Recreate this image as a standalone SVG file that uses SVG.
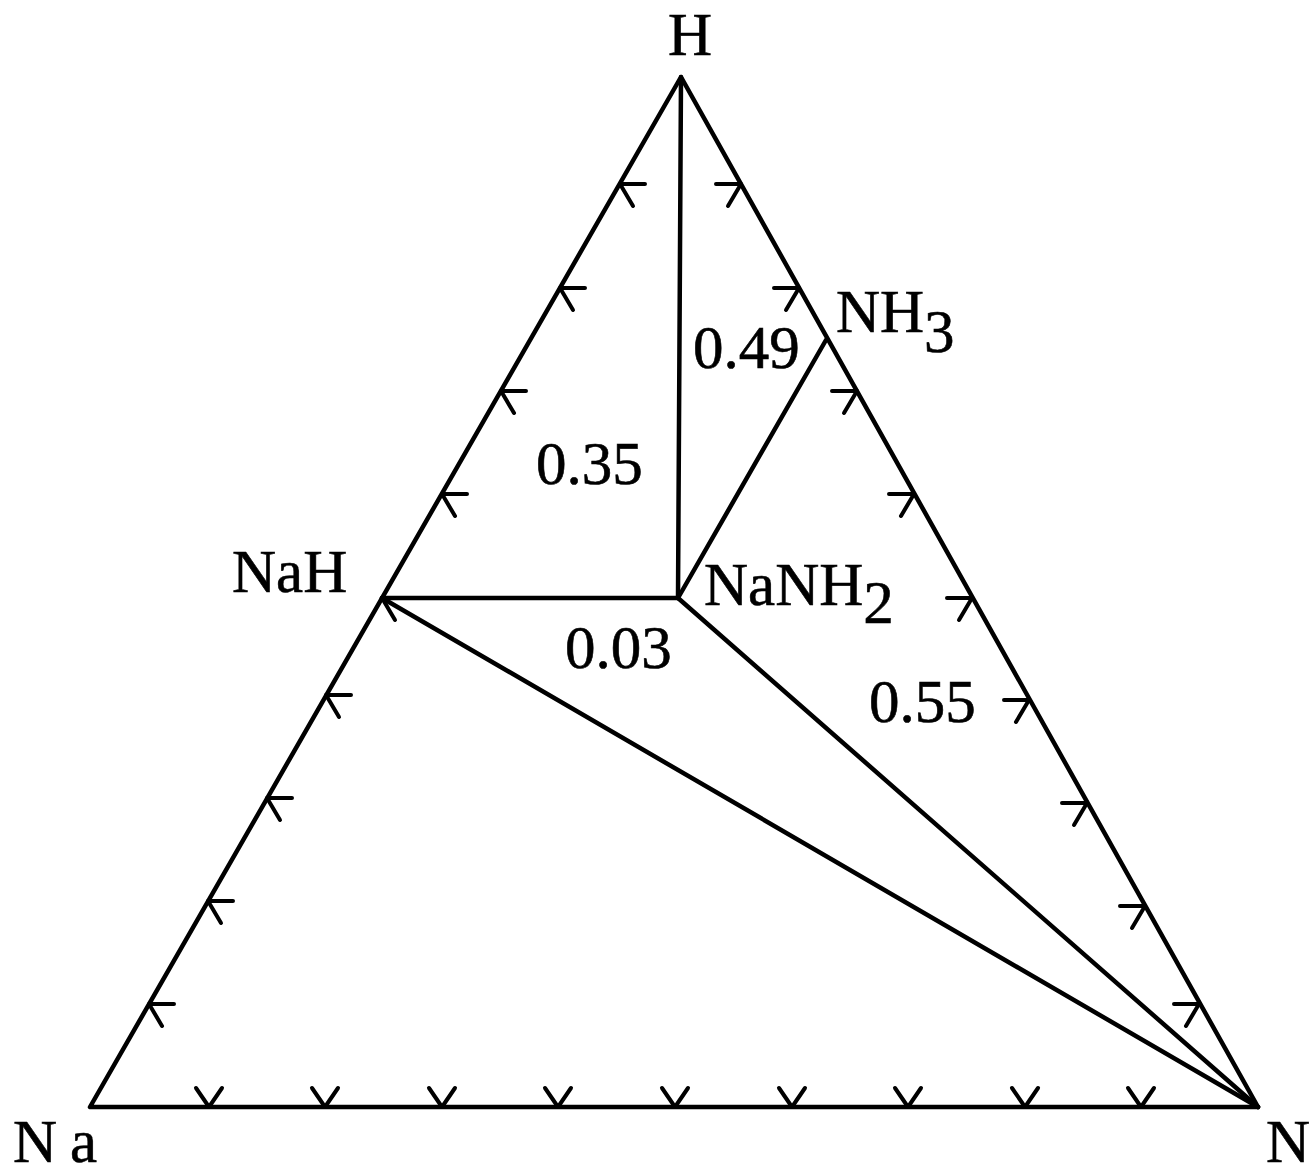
<svg xmlns="http://www.w3.org/2000/svg" width="1312" height="1176" viewBox="0 0 1312 1176">
<style>
.ln{stroke:#000;stroke-width:4.5;fill:none;stroke-linecap:round;stroke-linejoin:round}
.tk{stroke:#000;stroke-width:4;fill:none;stroke-linecap:round;stroke-linejoin:round}
.t{font-family:"Liberation Serif","Times New Roman",serif;font-size:61px;fill:#000;stroke:#000;stroke-width:0.6}
</style>
<rect x="0" y="0" width="1312" height="1176" fill="#fff"/>
<g id="connectors">
  <path class="ln" d="M681,77 L90,1107 L1258,1107 Z"/>
  <line class="ln" x1="681" y1="77" x2="678" y2="598"/>
  <line class="ln" x1="826" y1="340" x2="678" y2="598"/>
  <line class="ln" x1="382" y1="598" x2="678" y2="598"/>
  <line class="ln" x1="382" y1="598" x2="1258" y2="1107"/>
  <line class="ln" x1="678" y1="598" x2="1258" y2="1107"/>
  <g id="ticks-left" class="tk">
    <path d="M174,1004 L149,1004 L162,1026"/>
    <path d="M233,901 L208,901 L221,923"/>
    <path d="M292,798 L267,798 L280,820"/>
    <path d="M351,695 L326,695 L339,717"/>
    <path d="M407,598 L382,598 L395,620"/>
    <path d="M467,494 L442,494 L455,516"/>
    <path d="M526,391 L501,391 L514,413"/>
    <path d="M585,288 L560,288 L573,310"/>
    <path d="M645,184 L620,184 L633,206"/>
  </g>
  <g id="ticks-right" class="tk">
    <path d="M716,184 L741,184 L728,206"/>
    <path d="M774,288 L799,288 L786,310"/>
    <path d="M832,391 L857,391 L844,413"/>
    <path d="M889,494 L914,494 L901,516"/>
    <path d="M947,598 L972,598 L959,620"/>
    <path d="M1004,700 L1029,700 L1016,722"/>
    <path d="M1062,803 L1087,803 L1074,825"/>
    <path d="M1120,906 L1145,906 L1132,928"/>
    <path d="M1174,1004 L1199,1004 L1186,1026"/>
  </g>
  <g id="ticks-bottom" class="tk">
    <path d="M196,1088 L209,1107 L222,1088"/>
    <path d="M312,1088 L325,1107 L338,1088"/>
    <path d="M429,1088 L442,1107 L455,1088"/>
    <path d="M545,1088 L558,1107 L571,1088"/>
    <path d="M662,1088 L675,1107 L688,1088"/>
    <path d="M779,1088 L792,1107 L805,1088"/>
    <path d="M895,1088 L908,1107 L921,1088"/>
    <path d="M1012,1088 L1025,1107 L1038,1088"/>
    <path d="M1128,1088 L1141,1107 L1154,1088"/>
  </g>
</g>
<g id="node-H"><text class="t" x="690" y="55" text-anchor="middle">H</text></g>
<g id="node-Na"><text class="t" x="13" y="1162">N</text><text class="t" x="70" y="1162">a</text></g>
<g id="node-N"><text class="t" x="1266" y="1162">N</text></g>
<g id="node-NaH"><text class="t" x="232" y="592">NaH</text></g>
<g id="node-NH3"><text class="t" x="836" y="332">NH<tspan dy="20">3</tspan></text></g>
<g id="node-NaNH2"><text class="t" x="704" y="605">NaNH<tspan dy="18">2</tspan></text></g>
<g id="labels">
  <text class="t" x="693" y="368">0.49</text>
  <text class="t" x="536" y="484">0.35</text>
  <text class="t" x="565" y="668">0.03</text>
  <text class="t" x="869" y="722">0.55</text>
</g>
</svg>
